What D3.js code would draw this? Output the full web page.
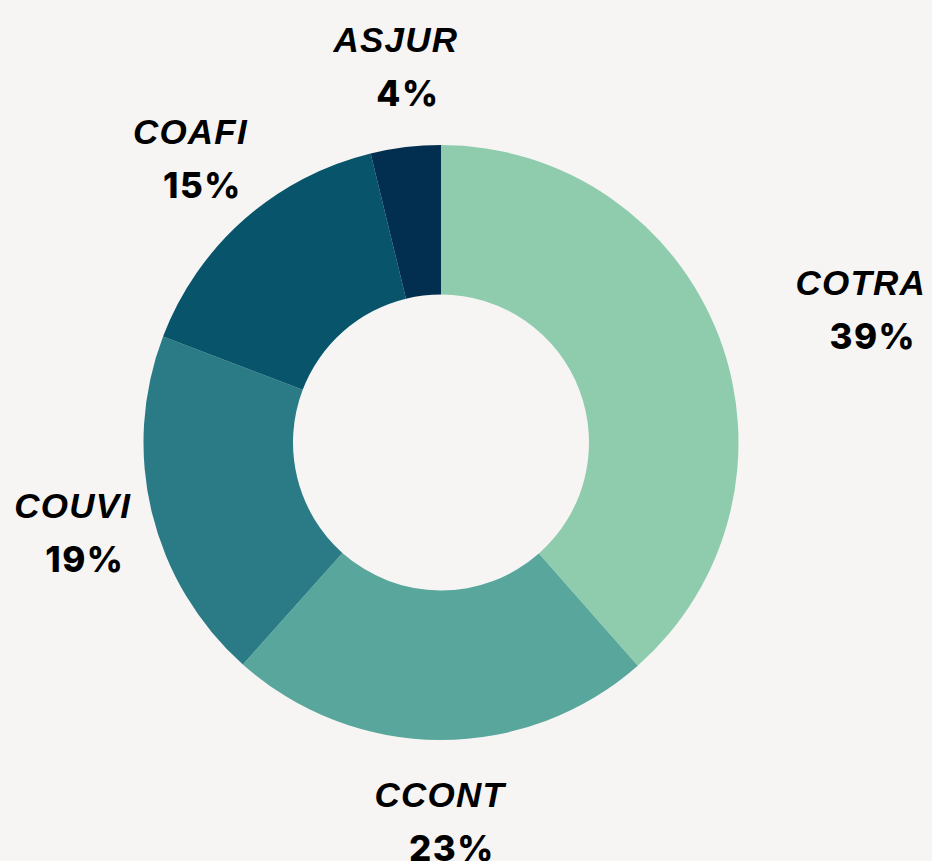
<!DOCTYPE html>
<html lang="en">
<head>
    <meta charset="UTF-8">
    <title>Donut chart</title>
    <style>
        html, body { margin: 0; padding: 0; background: #f6f5f3; }
        svg { display: block; }
        .name { font-family: "Liberation Sans", Arial, sans-serif; font-weight: bold; font-style: italic; font-size: 35px; letter-spacing: 1.2px; fill: #000; }
        .pct { font-family: Inter, "Noto Sans", sans-serif; font-weight: 800; font-size: 35px; letter-spacing: 1.5px; fill: #000; }
    </style>
</head>
<body>
    <svg id="chart" width="932" height="861"></svg>
    <script src="https://d3js.org/d3.v7.min.js"></script>
    <script>
        // data (percent share of each unit)
        var categories = ["COTRA", "CCONT", "COUVI", "COAFI", "ASJUR"];
        var shares = [38.5, 23.1, 19.2, 15.4, 3.8];
        var colors = ["#8fccae", "#59a69c", "#2b7b86", "#07546b", "#022f4f"];

        var width = 932, height = 861;
        var cx = 441, cy = 442.5;
        var outerR = 297.5, innerR = 148, labelR = 379;

        var data = categories.map(function(c, i) { return { name: c, value: shares[i], color: colors[i] }; });

        var svg = d3.select("#chart")
            .attr("width", width)
            .attr("height", height);

        svg.append("rect")
            .attr("width", width)
            .attr("height", height)
            .attr("fill", "#f6f5f3");

        var g = svg.append("g")
            .attr("transform", "translate(" + cx + "," + cy + ")");

        var pie = d3.pie()
            .sort(null)
            .value(function(d) { return d.value; });

        var arc = d3.arc()
            .innerRadius(innerR)
            .outerRadius(outerR);

        var labelArc = d3.arc()
            .innerRadius(labelR)
            .outerRadius(labelR);

        var arcs = pie(data);

        g.selectAll("path.slice")
            .data(arcs)
            .enter().append("path")
            .attr("class", "slice")
            .attr("d", arc)
            .attr("fill", function(d) { return d.data.color; });

        // labels: name on top, rounded percentage below
        var labels = g.selectAll("g.label")
            .data(arcs)
            .enter().append("g")
            .attr("class", "label");

        labels.append("text")
            .attr("class", "name")
            .attr("text-anchor", "middle")
            .attr("y", -14)
            .text(function(d) { return d.data.name; });

        labels.append("text")
            .attr("class", "pct")
            .attr("text-anchor", "middle")
            .attr("x", 12)
            .attr("y", 40)
            .text(function(d) { return Math.round(d.data.value) + "%"; });

        labels.attr("transform", function(d) {
            var c = labelArc.centroid(d);
            var mid = (d.startAngle + d.endAngle) / 2;
            // labels on the right side start at the anchor point
            if (Math.sin(mid) > 0.5) {
                var w = d3.select(this).select(".name").node().getComputedTextLength();
                c[0] += w / 2;
            }
            return "translate(" + c[0] + "," + c[1] + ")";
        });
    </script>
</body>
</html>
